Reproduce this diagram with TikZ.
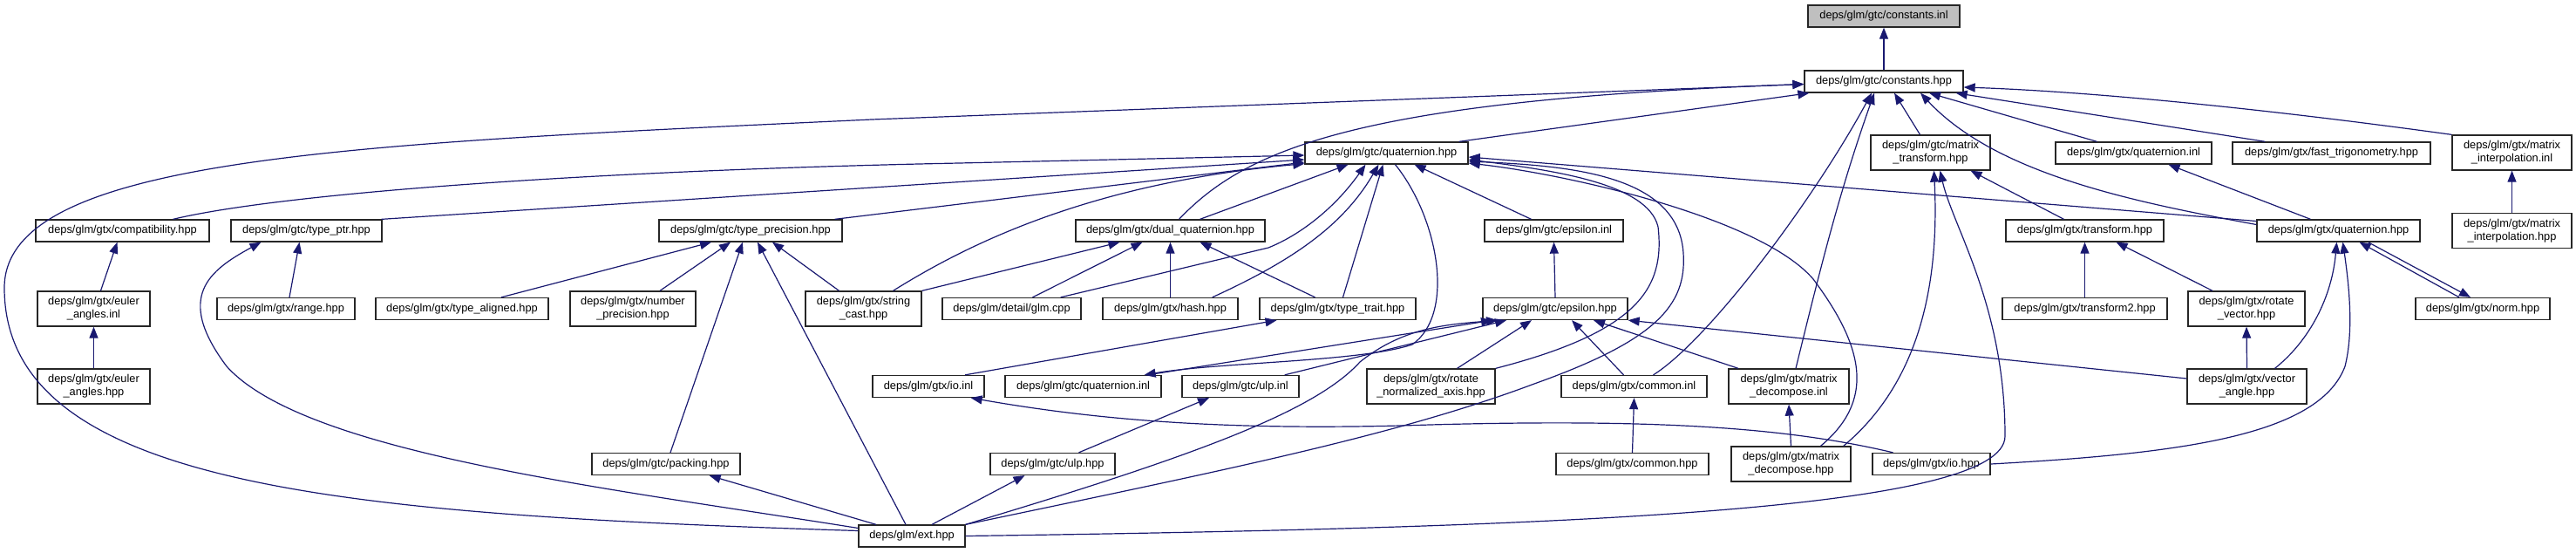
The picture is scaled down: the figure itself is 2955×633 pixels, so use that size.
\documentclass[tikz,border=0pt]{standalone}
\usepackage{fontspec}
\setmainfont{Liberation Sans}
\usetikzlibrary{arrows.meta}
\definecolor{navy}{RGB}{25,25,112}
\definecolor{rootgray}{RGB}{191,191,191}
\tikzset{
  box/.style={draw=black!85, line width=0.65pt, fill=white, inner sep=0pt, align=center,
              font=\fontsize{6.4}{7.5}\selectfont, minimum height=12.5pt},
  box2/.style={box, minimum height=20pt},
  link/.style={draw=navy, line width=0.6pt, -{Triangle[length=6.5pt,width=5pt]}},
}
\begin{document}
\begin{tikzpicture}[x=0.5pt,y=-0.5pt]
\useasboundingbox (0,0) rectangle (2955,633);
% row 0
\node[box, fill=rootgray, minimum width=87pt] (cinl) at (2161,18.5) {deps/glm/gtc/constants.inl};
% row 1
\node[box, minimum width=91pt] (chpp) at (2161,93.5) {deps/glm/gtc/constants.hpp};
% row 2
\node[box, minimum width=93.5pt] (gquat) at (1590.5,175.5) {deps/glm/gtc/quaternion.hpp};
\node[box2, minimum width=68.5pt] (mtrans) at (2214.5,175) {deps/glm/gtc/matrix\\\_transform.hpp};
\node[box, minimum width=89.5pt] (xquatinl) at (2447.5,175.5) {deps/glm/gtx/quaternion.inl};
\node[box, minimum width=113.5pt] (fasttrig) at (2674.5,175.5) {deps/glm/gtx/fast\_trigonometry.hpp};
\node[box2, minimum width=68.5pt] (minterpinl) at (2881.5,175) {deps/glm/gtx/matrix\\\_interpolation.inl};
% row 3
\node[box, minimum width=99.5pt] (compat) at (140.5,264.5) {deps/glm/gtx/compatibility.hpp};
\node[box, minimum width=86.5pt] (typeptr) at (351.5,264.5) {deps/glm/gtc/type\_ptr.hpp};
\node[box, minimum width=105pt] (typeprec) at (861,264.5) {deps/glm/gtc/type\_precision.hpp};
\node[box, minimum width=108.5pt] (dualq) at (1342.5,264.5) {deps/glm/gtx/dual\_quaternion.hpp};
\node[box, minimum width=79.5pt] (epsinl) at (1782.5,264.5) {deps/glm/gtc/epsilon.inl};
\node[box, minimum width=90.5pt] (xtransform) at (2391.5,264.5) {deps/glm/gtx/transform.hpp};
\node[box, minimum width=93.5pt] (xquat) at (2682.5,264.5) {deps/glm/gtx/quaternion.hpp};
\node[box2, minimum width=68.5pt] (minterphpp) at (2881.5,264.5) {deps/glm/gtx/matrix\\\_interpolation.hpp};
% row 4
\node[box2, minimum width=64.5pt] (eulerinl) at (107.5,354) {deps/glm/gtx/euler\\\_angles.inl};
\node[box, minimum width=79pt] (range) at (328,354) {deps/glm/gtx/range.hpp};
\node[box, minimum width=99pt] (typealigned) at (530,354) {deps/glm/gtx/type\_aligned.hpp};
\node[box2, minimum width=72pt] (numprec) at (726,354) {deps/glm/gtx/number\\\_precision.hpp};
\node[box2, minimum width=66.5pt] (strcast) at (990.5,354) {deps/glm/gtx/string\\\_cast.hpp};
\node[box, minimum width=79.5pt] (glmcpp) at (1160.5,354) {deps/glm/detail/glm.cpp};
\node[box, minimum width=77.5pt] (hash) at (1342.5,354) {deps/glm/gtx/hash.hpp};
\node[box, minimum width=89.5pt] (typetrait) at (1534.5,354) {deps/glm/gtx/type\_trait.hpp};
\node[box, minimum width=83pt] (epshpp) at (1784,354) {deps/glm/gtc/epsilon.hpp};
\node[box, minimum width=94.5pt] (transform2) at (2391.5,354) {deps/glm/gtx/transform2.hpp};
\node[box2, minimum width=67pt] (rotvec) at (2577,354) {deps/glm/gtx/rotate\\\_vector.hpp};
\node[box, minimum width=77pt] (norm) at (2848,354) {deps/glm/gtx/norm.hpp};
% row 5
\node[box2, minimum width=64.5pt] (eulerhpp) at (107.5,443) {deps/glm/gtx/euler\\\_angles.hpp};
\node[box, minimum width=64pt] (ioinl) at (1065,443) {deps/glm/gtx/io.inl};
\node[box, minimum width=89.5pt] (gquatinl) at (1242.5,443) {deps/glm/gtc/quaternion.inl};
\node[box, minimum width=67pt] (ulpinl) at (1423,443) {deps/glm/gtc/ulp.inl};
\node[box2, minimum width=73.5pt] (rotnorm) at (1641.5,443) {deps/glm/gtx/rotate\\\_normalized\_axis.hpp};
\node[box, minimum width=83.5pt] (commoninl) at (1874.5,443) {deps/glm/gtx/common.inl};
\node[box2, minimum width=69pt] (mdecinl) at (2052,443) {deps/glm/gtx/matrix\\\_decompose.inl};
\node[box2, minimum width=68.5pt] (vecangle) at (2577.5,443) {deps/glm/gtx/vector\\\_angle.hpp};
% row 6
\node[box, minimum width=85pt] (packing) at (764,532) {deps/glm/gtc/packing.hpp};
\node[box, minimum width=71.5pt] (ulphpp) at (1207.5,532) {deps/glm/gtc/ulp.hpp};
\node[box, minimum width=87.5pt] (commonhpp) at (1872.5,532) {deps/glm/gtx/common.hpp};
\node[box2, minimum width=68.5pt] (mdechpp) at (2054.5,532) {deps/glm/gtx/matrix\\\_decompose.hpp};
\node[box, minimum width=67.5pt] (iohpp) at (2215.5,532) {deps/glm/gtx/io.hpp};
% row 7
\node[box, minimum width=61pt] (ext) at (1046,614.5) {deps/glm/ext.hpp};

% ---- connectors ----
\draw[link] (chpp.north) -- (cinl.south);
\draw[link] ([yshift=3pt]ext.west) .. controls (400,590) and (5,560) .. (5,330)
   .. controls (5,180) and (400,165) .. (1000,137) -- ([yshift=-1.5pt]chpp.west);
\draw[link] ([xshift=5pt]dualq.north) .. controls (1430,170) and (1560,115) .. ([yshift=-1.5pt]chpp.west);
\draw[link] ([xshift=-5.5pt]gquat.north east) -- ([xshift=3pt]chpp.south west);
\draw[link] ([xshift=11pt]commoninl.north) .. controls (1960,390) and (2080,230) .. ([xshift=-7pt]chpp.south);
\draw[link] ([xshift=4pt]mdecinl.north) .. controls (2090,300) and (2110,220) .. ([xshift=-5.5pt]chpp.south);
\draw[link] ([xshift=-6pt]mtrans.north) -- ([xshift=6pt]chpp.south);
\draw[link] ([xshift=-21pt]xquatinl.north) -- ([xshift=26pt]chpp.south);
\draw[link] ([yshift=3.5pt]xquat.west) .. controls (2450,232) and (2290,200) .. ([xshift=21pt]chpp.south);
\draw[link] ([xshift=19pt]fasttrig.north west) -- ([xshift=-4.5pt]chpp.south east);
\draw[link] (minterpinl.north west) .. controls (2600,125) and (2400,105) .. ([yshift=-3.25pt]chpp.east);
% ext
\draw[link] (ext.north east) .. controls (1400,540) and (1600,500) .. (1760,440)
   .. controls (1900,390) and (1935,350) .. (1931,290)
   .. controls (1925,200) and (1800,190) .. ([yshift=-4.75pt]gquat.east);
\draw[link] (ext.north east) .. controls (1380,520) and (1510,470) .. (1560,415)
   .. controls (1610,375) and (1660,372) .. ([xshift=-33pt]epshpp.south);
\draw[link] (ext.east) .. controls (1800,605) and (2300,585) .. (2300,500)
   .. controls (2300,350) and (2240,260) .. ([xshift=5.5pt]mtrans.south);
\draw[link] ([yshift=4.5pt]ext.west) .. controls (700,560) and (350,520) .. (260,420)
   .. controls (200,340) and (240,310) .. ([xshift=-26pt]typeptr.south);
\draw[link] ([xshift=-3.5pt]ext.north) -- ([xshift=4pt]typeprec.south);
\draw[link] ([xshift=-20.5pt]ext.north) -- ([xshift=-18pt]packing.south east);
\draw[link] ([xshift=11.5pt]ext.north) -- ([xshift=-16pt]ulphpp.south);
% type_precision
\draw[link] ([xshift=22.5pt]typealigned.north) -- ([xshift=-22.5pt]typeprec.south);
\draw[link] ([xshift=15.5pt]numprec.north) -- ([xshift=-11.5pt]typeprec.south);
\draw[link] ([xshift=2.5pt]packing.north) -- ([xshift=-4.5pt]typeprec.south);
\draw[link] ([xshift=-14pt]strcast.north) -- ([xshift=12.5pt]typeprec.south);
% gtc/quaternion.hpp
\draw[link] ([xshift=29pt]compat.north) .. controls (330,220) and (700,195) .. (1100,187) -- ([yshift=-1.25pt]gquat.west);
\draw[link] ([xshift=-0.5pt]typeptr.north east) -- ([yshift=-3.75pt]gquat.west);
\draw[link] ([xshift=-4.5pt]typeprec.north east) -- ([yshift=-5.25pt]gquat.west);
\draw[link] ([xshift=17pt]strcast.north) .. controls (1110,280) and (1250,210) .. ([yshift=0.5pt]gquat.south west);
\draw[link] (strcast.north east) -- ([xshift=-29pt]dualq.south);
\draw[link] ([xshift=12pt]glmcpp.north) -- ([xshift=-16pt]dualq.south);
\draw[link] (hash.north) -- (dualq.south);
\draw[link] ([xshift=-13pt]typetrait.north) -- ([xshift=17pt]dualq.south);
\draw[link] ([xshift=17pt]dualq.north) -- ([xshift=-22pt]gquat.south);
\draw[link] ([xshift=-12pt]glmcpp.north east) -- (1455,284) .. controls (1490,270) and (1530,240) .. ([xshift=-12pt]gquat.south);
\draw[link] ([xshift=-15pt]hash.north east) .. controls (1480,300) and (1540,260) .. ([xshift=-4.5pt]gquat.south);
\draw[link] ([xshift=3pt]typetrait.north) -- ([xshift=-2pt]gquat.south);
\draw[link] ([xshift=-13pt]epsinl.north) -- ([xshift=16pt]gquat.south);
\draw[link] ([xshift=5pt]gquat.south) .. controls (1650,250) and (1670,360) .. (1620,395)
   .. controls (1560,415) and (1400,415) .. ([xshift=-10pt]gquatinl.north east);
\draw[link] (rotnorm.north east) .. controls (1880,380) and (1910,330) .. (1902,260)
   .. controls (1890,210) and (1780,195) .. ([yshift=-3.75pt]gquat.east);
\draw[link] ([yshift=5.5pt]xquat.west) -- ([yshift=-2.25pt]gquat.east);
\draw[link] ([xshift=17pt]mdechpp.north) .. controls (2150,460) and (2140,400) .. (2080,320)
   .. controls (2020,250) and (1800,200) .. ([yshift=-5.75pt]gquat.east);
% epsilon
\draw[link] ([xshift=-8pt]gquatinl.north east) -- ([xshift=-36pt]epshpp.south);
\draw[link] ([xshift=-8.5pt]ulpinl.north east) -- ([xshift=-28pt]epshpp.south);
\draw[link] (epshpp.north) -- (epsinl.south);
\draw[link] ([xshift=15pt]rotnorm.north) -- ([xshift=-13.5pt]epshpp.south);
\draw[link] ([xshift=-6pt]commoninl.north) -- ([xshift=9.5pt]epshpp.south);
\draw[link] ([xshift=-29pt]mdecinl.north) -- ([xshift=22pt]epshpp.south);
\draw[link] ([yshift=4.5pt]vecangle.west) -- (epshpp.south east);
% matrix transform / decompose
\draw[link] ([xshift=-4.5pt]mdechpp.north east) .. controls (2200,440) and (2225,330) .. ([xshift=2pt]mtrans.south);
\draw[link] (mdechpp.north) -- (mdecinl.south);
\draw[link] (commonhpp.north) -- (commoninl.south);
% io
\draw[link] ([xshift=-22pt]iohpp.north) .. controls (2050,490) and (1900,480) .. (1640,487)
   .. controls (1400,495) and (1250,480) .. ([xshift=-8pt]ioinl.south east);
\draw[link] (iohpp.east) .. controls (2500,520) and (2660,500) .. (2690,420)
   .. controls (2700,380) and (2695,330) .. ([xshift=2.5pt]xquat.south);
\draw[link] ([xshift=16pt]vecangle.north) .. controls (2650,390) and (2675,340) .. ([xshift=-1pt]xquat.south);
\draw[link] (vecangle.north) -- (rotvec.south);
\draw[link] ([xshift=-19.5pt]rotvec.north) -- ([xshift=18pt]xtransform.south);
\draw[link] (transform2.north) -- (xtransform.south);
\draw[link] ([xshift=-12pt]xtransform.north) -- ([xshift=23pt]mtrans.south);
\draw[link] ([xshift=-16pt]xquat.north) -- ([xshift=20pt]xquatinl.south);
\draw[link] ([xshift=-13.5pt]norm.north) -- ([xshift=12pt]xquat.south);
\draw[link] ([xshift=17pt]xquat.south) -- ([xshift=-7pt]norm.north);
\draw[link] (minterphpp.north) -- (minterpinl.south);
\draw[link] ([xshift=15pt]ulphpp.north) -- ([xshift=-18pt]ulpinl.south);
\draw[link] ([xshift=21pt]ioinl.north) -- ([xshift=-35pt]typetrait.south);
\draw[link] ([xshift=4pt]eulerinl.north) -- ([xshift=-3pt]compat.south);
\draw[link] (eulerhpp.north) -- (eulerinl.south);
\draw[link] ([xshift=2pt]range.north) -- ([xshift=-4pt]typeptr.south);
\end{tikzpicture}
\end{document}
